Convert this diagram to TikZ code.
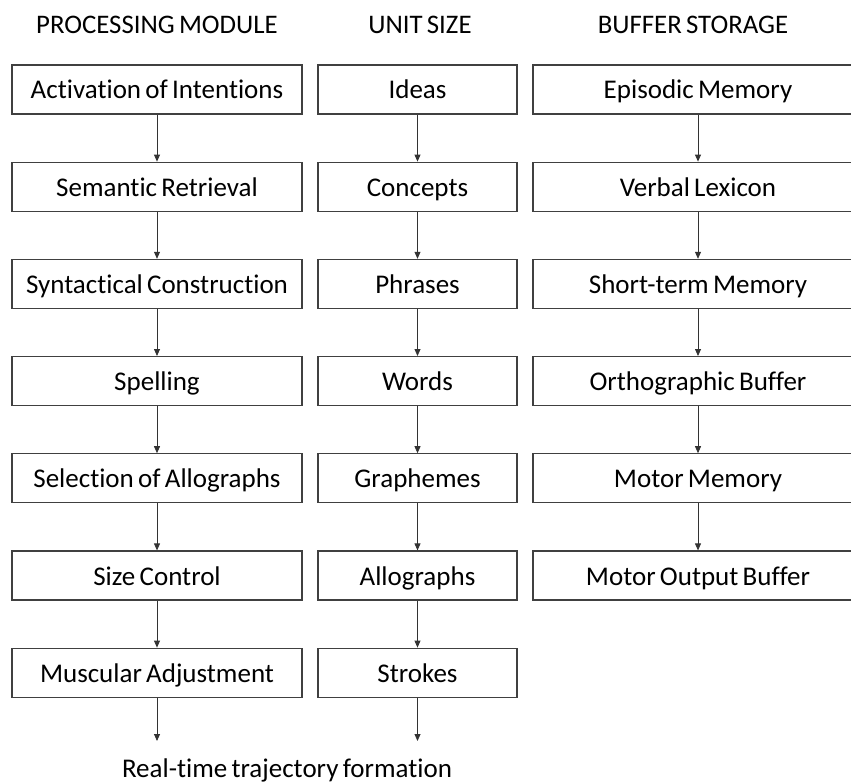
\documentclass[tikz,border=0pt]{standalone}
\usepackage{fontspec}
\setmainfont{Carlito}[Ligatures={NoCommon},WordSpace=0.7]
\usetikzlibrary{arrows.meta}
\begin{document}
\begin{tikzpicture}[x=1pt,y=-1pt,
  box/.style={draw=black!75,line width=1.2pt,inner sep=0pt,minimum height=49pt,
    text height=23pt,text depth=4pt,font=\fontsize{27}{30}\selectfont},
  colA/.style={box,minimum width=290pt},
  colB/.style={box,minimum width=199pt},
  colC/.style={box,minimum width=330pt},
  head/.style={font=\fontsize{26.8}{30}\selectfont},
  arr/.style={draw=black!80,line width=0.8pt,-{Triangle[length=7pt,width=6pt]}}]
\useasboundingbox (0,0) rectangle (851,784);
\node[head] (hA) at (157,25) {PROCESSING MODULE};
\node[head] (hB) at (420,25) {UNIT SIZE};
\node[head] (hC) at (693,25) {BUFFER STORAGE};
% column A
\node[colA] (a1) at (157,89.5) {Activation of Intentions};
\node[colA] (a2) at (157,186.7) {Semantic Retrieval};
\node[colA] (a3) at (157,283.9) {Syntactical Construction};
\node[colA] (a4) at (157,381.1) {Spelling};
\node[colA] (a5) at (157,478.3) {Selection of Allographs};
\node[colA] (a6) at (157,575.5) {Size Control};
\node[colA] (a7) at (157,672.7) {Muscular Adjustment};
% column B
\node[colB] (b1) at (417.5,89.5) {Ideas};
\node[colB] (b2) at (417.5,186.7) {Concepts};
\node[colB] (b3) at (417.5,283.9) {Phrases};
\node[colB] (b4) at (417.5,381.1) {Words};
\node[colB] (b5) at (417.5,478.3) {Graphemes};
\node[colB] (b6) at (417.5,575.5) {Allographs};
\node[colB] (b7) at (417.5,672.7) {Strokes};
% column C
\node[colC] (c1) at (698,89.5) {Episodic Memory};
\node[colC] (c2) at (698,186.7) {Verbal Lexicon};
\node[colC] (c3) at (698,283.9) {Short-term Memory};
\node[colC] (c4) at (698,381.1) {Orthographic Buffer};
\node[colC] (c5) at (698,478.3) {Motor Memory};
\node[colC] (c6) at (698,575.5) {Motor Output Buffer};
% bottom
\coordinate (endA) at (157,741);
\coordinate (endB) at (417.5,741);
\node[font=\fontsize{27}{30}\selectfont,anchor=base,inner sep=0pt] (rt) at (287,777) {Real-time trajectory formation};
% arrows
\foreach \s/\t in {a1/a2,a2/a3,a3/a4,a4/a5,a5/a6,a6/a7,a7/endA,
                   b1/b2,b2/b3,b3/b4,b4/b5,b5/b6,b6/b7,b7/endB,
                   c1/c2,c2/c3,c3/c4,c4/c5,c5/c6}
  \draw[arr] (\s.south) -- (\t |- \t.north);
\end{tikzpicture}
\end{document}
